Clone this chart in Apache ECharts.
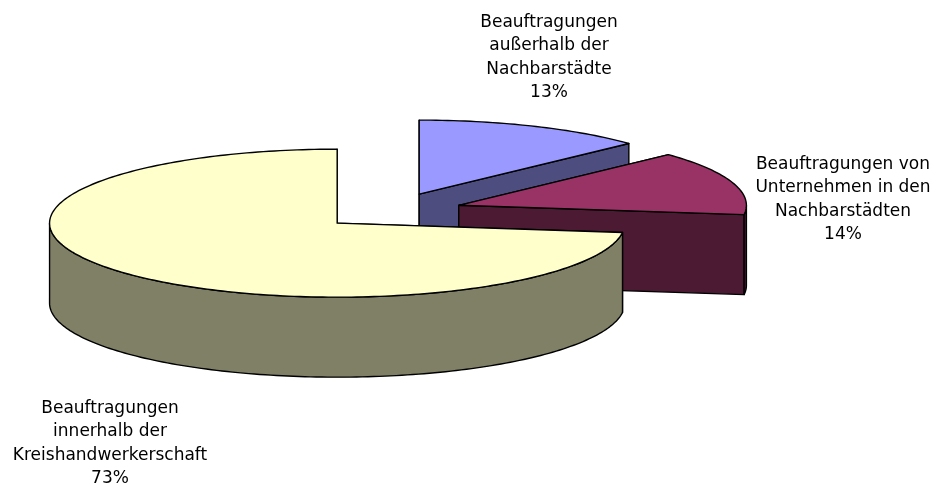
<!DOCTYPE html>
<html>
<head>
    <meta charset="UTF-8">
    <title>Beauftragungen</title>
    <style>
        html,body {
            height: 100%;
            width: 100%;
            margin: 0;
            padding: 0;
            background: white;
        }
        #chart {
            width: 934px;
            height: 486px;
        }
    </style>
    <script src="https://cdn.jsdelivr.net/npm/echarts@6/dist/echarts.min.js"></script>
</head>
<body>
<div id="chart"></div>
<script type="text/javascript">
    var categories = [
        'Beauftragungen\naußerhalb der\nNachbarstädte',
        'Beauftragungen von\nUnternehmen in den\nNachbarstädten',
        'Beauftragungen\ninnerhalb der\nKreishandwerkerschaft'
    ];
    var values = [13, 14, 73];
    var topColors = ['#9999FF', '#993366', '#FFFFCC'];
    var sideColors = ['#4D4D80', '#4D1A33', '#808066'];
    var labelCenters = [[549, 57.5], [843, 199.5], [110, 443.5]];

    // tilted pie layout
    var cx = 390.8, cy = 211, rx = 287.6, ry = 74, depth = 80, explode = 71.5;

    var total = values.reduce(function(a, b) { return a + b; }, 0);
    var starts = [];
    values.reduce(function(sum, v, i) { starts[i] = sum; return sum + v; }, 0);

    function pt(c, ang, dy) {
        return [c[0] + rx * Math.sin(ang), c[1] - ry * Math.cos(ang) + (dy || 0)];
    }
    function arc(c, a0, a1, dy) {
        var pts = [], n = Math.max(2, Math.ceil((a1 - a0) / 0.02));
        for (var i = 0; i <= n; i++) {
            pts.push(pt(c, a0 + (a1 - a0) * i / n, dy));
        }
        return pts;
    }
    function face(points, fill) {
        return {
            type: 'polygon',
            shape: { points: points },
            style: { fill: fill, stroke: '#000', lineWidth: 1.4, lineJoin: 'round' }
        };
    }

    function renderSlice(params, api) {
        var i = params.dataIndex;
        var a0 = api.value(1) / total * Math.PI * 2;
        var a1 = a0 + api.value(0) / total * Math.PI * 2;
        var mid = (a0 + a1) / 2;
        // each slice is pulled out along its middle angle
        var c = [cx + explode * Math.sin(mid), cy - explode * (ry / rx) * Math.cos(mid)];
        var side = sideColors[i];
        var kids = [];

        [a0, a1].forEach(function(a) {
            var e = pt(c, a);
            kids.push(face([c, e, [e[0], e[1] + depth], [c[0], c[1] + depth]], side));
        });

        // outer wall, only the front half of the ellipse shows
        var f0 = Math.max(a0, Math.PI / 2), f1 = Math.min(a1, Math.PI * 1.5);
        if (f1 > f0) {
            kids.push(face(arc(c, f0, f1, 0).concat(arc(c, f0, f1, depth).reverse()), side));
        }

        kids.push(face([c].concat(arc(c, a0, a1, 0)), topColors[i]));

        kids.push({
            type: 'text',
            style: {
                x: labelCenters[i][0],
                y: labelCenters[i][1],
                text: categories[i] + '\n' + values[i] + '%',
                font: '17px "DejaVu Sans", Verdana, sans-serif',
                lineHeight: 23.6,
                fill: '#000',
                align: 'center',
                verticalAlign: 'middle'
            }
        });
        return { type: 'group', children: kids };
    }

    var myChart = echarts.init(document.getElementById('chart'), null, { renderer: 'canvas' });
    myChart.setOption({
        animation: false,
        backgroundColor: '#fff',
        series: [{
            type: 'custom',
            coordinateSystem: 'none',
            renderItem: renderSlice,
            data: values.map(function(v, i) { return [v, starts[i]]; })
        }]
    });
</script>
</body>
</html>
